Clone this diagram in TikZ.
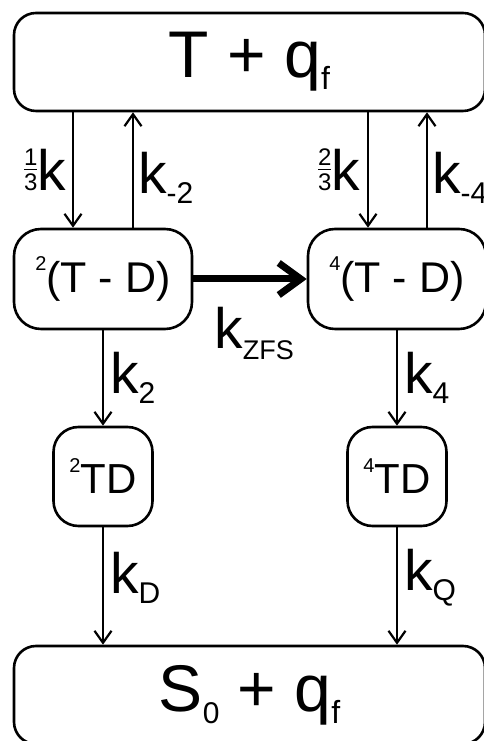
\documentclass[tikz,border=0pt]{standalone}
\usepackage{fontspec}
\setmainfont{Liberation Sans}
\usetikzlibrary{arrows.meta,positioning}

\newcommand\up[1]{\raisebox{0.5em}{\fontsize{20}{20}\selectfont #1}}
\newcommand\dn[2]{\raisebox{-0.18em}{\fontsize{#1}{#1}\selectfont #2}}
\newcommand\nfrac[2]{{\fontsize{24}{24}\selectfont\vbox{\offinterlineskip\halign{\hfil##\hfil\cr #1\cr\noalign{\kern3pt\hrule height 1.5pt\kern3.5pt}#2\cr}}}}

\begin{document}
\begin{tikzpicture}[x=1pt, y=1pt,
    state/.style={draw, line width=2.6pt, inner sep=0pt, align=center},
    bigstate/.style={state, rounded corners=22pt, minimum width=471pt, minimum height=98pt, font=\fontsize{66}{66}\selectfont},
    midstate/.style={state, rounded corners=27pt, minimum width=178pt, minimum height=100pt, font=\fontsize{43}{43}\selectfont},
    tdstate/.style={state, rounded corners=25pt, minimum width=99pt, minimum height=99pt, font=\fontsize{42}{42}\selectfont},
    rate/.style={line width=2.2pt, -{Straight Barb[length=12pt,width=17pt]}},
    fastrate/.style={line width=7pt, -{Straight Barb[length=22pt,width=32pt]}},
    ratelabel/.style={inner sep=0pt, font=\fontsize{57}{57}\selectfont}]

    \useasboundingbox (0,0) rectangle (483,741);

    \node[bigstate] (T) at (249.5,679) {T + q\dn{32}{f}};
    \node[bigstate] (S) at (249.5,46) {S\dn{30}{0} + q\dn{32}{f}};

    \node[midstate] (TD2) at (103,462) {\up{2}(T - D)};
    \node[midstate] (TD4) at (397,462) {\up{4}(T - D)};

    \node[tdstate] (D2) at (103,264.5) {\up{2}TD};
    \node[tdstate] (D4) at (397,264.5) {\up{4}TD};

    % ends of the up and down arrows
    \coordinate (a2) at ([xshift=-30pt]TD2.north);
    \coordinate (b2) at ([xshift=30pt]TD2.north);
    \coordinate (a4) at ([xshift=-29pt]TD4.north);
    \coordinate (b4) at ([xshift=30pt]TD4.north);

    \draw[rate] (a2 |- T.south) -- (a2) node[midway, left=6pt, ratelabel] {\nfrac{1}{3}k};
    \draw[rate] (b2) -- (b2 |- T.south) node[pos=0.43, right=4pt, ratelabel] {k\dn{30}{-2}};
    \draw[rate] (a4 |- T.south) -- (a4) node[midway, left=7pt, ratelabel] {\nfrac{2}{3}k};
    \draw[rate] (b4) -- (b4 |- T.south) node[pos=0.43, right=4pt, ratelabel] {k\dn{30}{-4}};

    \draw[fastrate] (TD2.east) -- (TD4.west) node[midway, below=25pt, xshift=4pt, ratelabel] {k\dn{27}{ZFS}};

    \draw[rate] (TD2.south) -- (D2.north) node[midway, right=6pt, ratelabel] {k\dn{30}{2}};
    \draw[rate] (TD4.south) -- (D4.north) node[midway, right=6pt, ratelabel] {k\dn{30}{4}};

    \draw[rate] (D2.south) -- (D2.south |- S.north) node[pos=0.43, right=6pt, ratelabel] {k\dn{30}{D}};
    \draw[rate] (D4.south) -- (D4.south |- S.north) node[pos=0.43, right=6pt, ratelabel] {k\dn{30}{Q}};

\end{tikzpicture}
\end{document}
